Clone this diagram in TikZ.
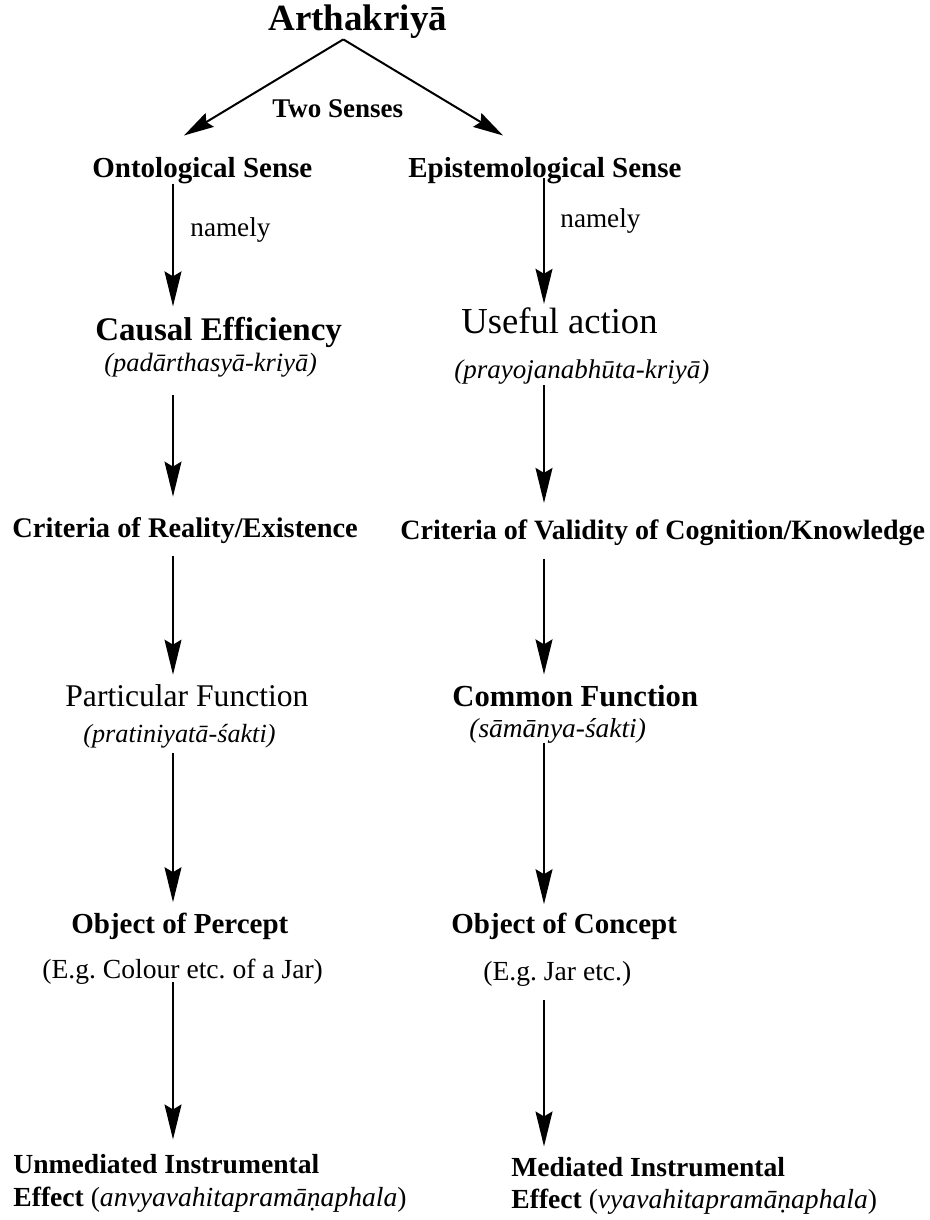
\documentclass[tikz,border=0pt]{standalone}
\usepackage{fontspec}
\setmainfont{Liberation Serif}
\usetikzlibrary{arrows.meta}
\frenchspacing

\newcommand{\fs}[1]{\fontsize{#1}{#1}\selectfont}
\tikzset{
  lbl/.style={inner sep=0pt, anchor=base west},
  arr/.style={-{Stealth[length=17.5pt,width=8.5pt,inset=2.5pt]}, line width=0.75pt, shorten >=5pt},
  bigarr/.style={-{Stealth[length=15pt,width=8pt,inset=2pt]}, line width=1pt}
}

\begin{document}
\begin{tikzpicture}[x=0.5pt,y=-0.5pt]
\useasboundingbox (0,0) rectangle (930,1220);
\coordinate (lx) at (173,0);
\coordinate (rx) at (544,0);

\node[lbl, font=\fs{18.5}\bfseries] (artha) at (268,31) {Arthakriyā};
\node[lbl, font=\fs{13.5}\bfseries] (two) at (272,118) {Two Senses};
\node[lbl, font=\fs{14.5}\bfseries] (ont) at (92,177) {Ontological Sense};
\node[lbl, font=\fs{14.5}\bfseries] (epi) at (408,177) {Epistemological Sense};
\node[lbl, font=\fs{13.6}] (namL) at (190,236) {namely};
\node[lbl, font=\fs{13.6}] (namR) at (560,227) {namely};

\node[lbl, font=\fs{16.5}\bfseries] (caus) at (95,340) {Causal Efficiency};
\node[lbl, font=\fs{13.2}\itshape] (padar) at (104,371) {(padārthasyā-kriyā)};
\node[lbl, font=\fs{18.3}] (useful) at (461,333) {Useful action};
\node[lbl, font=\fs{13.5}\itshape] (prayo) at (454,378) {(prayojanabhūta-kriyā)};

\node[lbl, font=\fs{14.2}\bfseries] (critR) at (12,537) {Criteria of Reality/Existence};
\node[lbl, font=\fs{14}\bfseries] (critV) at (400,539) {Criteria of Validity of Cognition/Knowledge};

\node[lbl, font=\fs{15.8}] (partic) at (65,706) {Particular Function};
\node[lbl, font=\fs{13.1}\itshape] (pratin) at (83,742) {(pratiniyatā-śakti)};
\node[lbl, font=\fs{15.3}\bfseries] (common) at (452,706) {Common Function};
\node[lbl, font=\fs{13.7}\itshape] (saman) at (469,737) {(sāmānya-śakti)};

\node[lbl, font=\fs{14.5}\bfseries] (objP) at (71,933) {Object of Percept};
\node[lbl, font=\fs{13.8}] (egCol) at (42,978) {(E.g. Colour etc. of a Jar)};
\node[lbl, font=\fs{14.5}\bfseries] (objC) at (451,933) {Object of Concept};
\node[lbl, font=\fs{13.8}] (egJar) at (483,980) {(E.g. Jar etc.)};

\node[lbl, font=\fs{13.8}\bfseries] (unmed) at (13,1173) {Unmediated Instrumental};
\node[lbl, font=\fs{13.8}] (unmedE) at (13,1206) {\textbf{Effect} (\textit{anvyavahitapramāṇaphala})};
\node[lbl, font=\fs{13.8}\bfseries] (med) at (511,1176) {Mediated Instrumental};
\node[lbl, font=\fs{13.8}] (medE) at (511,1208) {\textbf{Effect} (\textit{vyavahitapramāṇaphala})};

\draw[bigarr] ([xshift=-7.25pt]artha.south) -- ([xshift=5.5pt,yshift=10.5pt]ont.north -| lx);
\draw[bigarr] ([xshift=-7.25pt]artha.south) -- ([xshift=-20.5pt,yshift=10.5pt]epi.north -| rx);

\draw[arr] (ont.south -| lx) -- (caus.north -| lx);
\draw[arr, shorten <=9pt, shorten >=10pt] (padar.south -| lx) -- (critR.north -| lx);
\draw[arr, shorten <=6pt, shorten >=4.5pt] (critR.south -| lx) -- (partic.north -| lx);
\draw[arr, shorten <=2.5pt] (pratin.south -| lx) -- (objP.north -| lx);
\draw[arr, shorten <=-1pt, shorten >=7pt] (egCol.south -| lx) -- (unmed.north -| lx);

\draw[arr, shorten <=-3pt, shorten >=1.5pt] (epi.south -| rx) -- (useful.north -| rx);
\draw[arr, shorten <=0.5pt, shorten >=8pt] (prayo.south -| rx) -- (critV.north -| rx);
\draw[arr, shorten <=6.5pt] (critV.south -| rx) -- (common.north -| rx);
\draw[arr, shorten >=4pt] (saman.south -| rx) -- (objC.north -| rx);
\draw[arr, shorten <=7pt] (egJar.south -| rx) -- (med.north -| rx);
\end{tikzpicture}
\end{document}
